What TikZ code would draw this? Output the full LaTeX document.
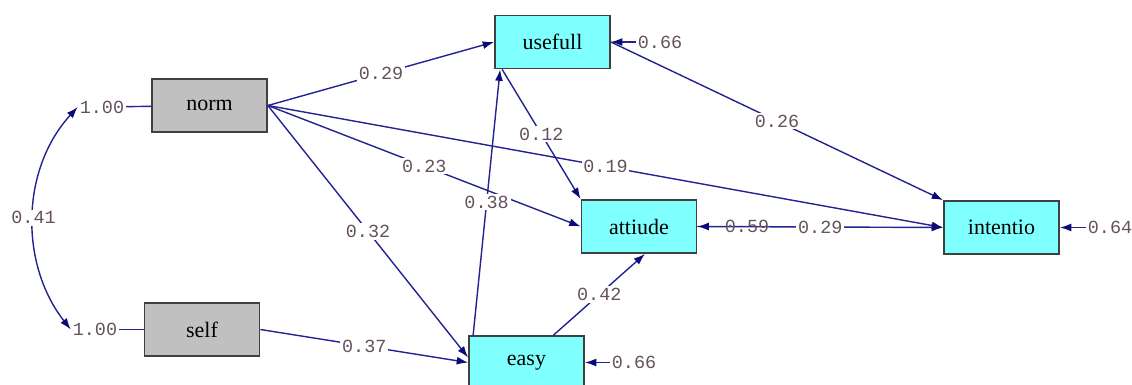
\documentclass[tikz,border=0pt]{standalone}
\usepackage{fontspec}
\setmainfont{Liberation Serif}
\setmonofont{Liberation Mono}
\usetikzlibrary{arrows.meta}

\definecolor{pathblue}{RGB}{35,35,145}
\definecolor{tipblue}{RGB}{10,10,120}
\definecolor{coefcol}{RGB}{100,82,92}
\definecolor{obsgray}{RGB}{192,192,192}
\definecolor{latcyan}{RGB}{128,255,255}
\definecolor{boxline}{RGB}{64,64,64}

\tikzset{
  var/.style={draw=boxline, line width=1pt, minimum width=2.3cm, minimum height=1.06cm,
    font=\fontsize{12.5}{14}\selectfont},
  exo/.style={var, fill=obsgray},
  endo/.style={var, fill=latcyan},
  tip/.style={Latex[length=6.5pt,width=4.5pt,color=tipblue]},
  effect/.style={pathblue, line width=0.8pt, -{Latex[length=6.5pt,width=4.5pt,color=tipblue]}},
  covar/.style={pathblue, line width=0.8pt,
    {Latex[length=6.5pt,width=4.5pt,color=tipblue]}-{Latex[length=6.5pt,width=4.5pt,color=tipblue]}},
  err/.style={font=\ttfamily\fontsize{10.5}{12}\selectfont, text=coefcol, inner sep=1pt},
  coef/.style={err, fill=white}
}

\begin{document}
\begin{tikzpicture}[x=0.02cm,y=-0.02cm]
\useasboundingbox (0,0) rectangle (1132,385);
% observed variables
\node[exo] (norm) at (209.5,105.5) {norm};
\node[exo] (self) at (202,329.5) {self};
\node[endo] (usefull) at (552.5,42) {usefull};
\node[endo] (attiude) at (639,226.5) {attiude};
\node[endo] (intentio) at (1001.5,227.5) {intentio};
\node[endo] (easy) at (526.5,362.5) {easy};

% variances and covariance
\node[err] (vnorm) at (102,107) {1.00};
\node[err] (vself) at (95,329.5) {1.00};
\draw[pathblue, line width=0.8pt] (vnorm) -- (norm);
\draw[pathblue, line width=0.8pt] (vself) -- (self);
\draw[covar] (vnorm.west) .. controls (20,170) and (20,265) .. (vself.west)
  node[midway,coef] {0.41};

% paths
\draw[effect] (norm.east) -- (usefull.west) node[midway,coef] {0.29};
\draw[effect] (norm.east) -- (intentio.west) node[midway,coef] {0.19};
\draw[effect] (norm.east) -- (attiude.west) node[midway,coef] {0.23};
\draw[effect] (norm.east) -- ([yshift=0.1cm]easy.west) node[midway,coef] {0.32};
\draw[effect] (self.east) -- (easy.west) node[midway,coef] {0.37};
\draw[effect] ([xshift=0.1cm]easy.north west) -- ([xshift=0.12cm]usefull.south west)
  node[midway,coef] {0.38};
\draw[effect] ([xshift=0.16cm]usefull.south west) -- (attiude.north west)
  node[midway,coef] {0.12};
\draw[effect] ([xshift=0.54cm]easy.north) -- ([xshift=0.12cm]attiude.south)
  node[midway,coef] {0.42};
\draw[effect] (usefull.east) -- (intentio.north west) node[midway,coef] {0.26};
\draw[effect] (attiude.east) -- (intentio.west) node[midway,coef] {0.29};

% error terms
\node[err] (eusefull) at (660,42) {0.66};
\node[err] (eattiude) at (747,226.5) {0.59};
\node[err] (eintentio) at (1110,227.5) {0.64};
\node[err] (eeasy) at (634,362.5) {0.66};
\draw[effect] (eusefull) -- (usefull);
\draw[effect] (eattiude) -- (attiude);
\draw[effect] (eintentio) -- (intentio);
\draw[effect] (eeasy) -- (easy);
\end{tikzpicture}
\end{document}
